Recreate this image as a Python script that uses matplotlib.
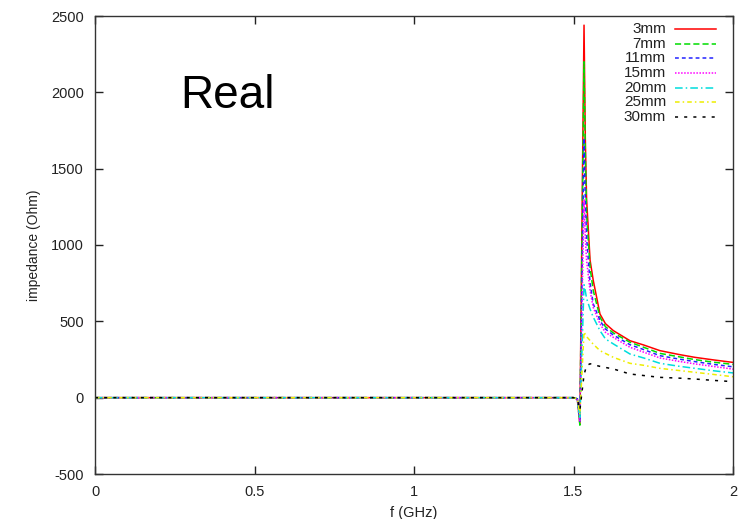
import matplotlib
matplotlib.use("Agg")
import matplotlib.pyplot as plt

plt.rcParams['font.family'] = ['Liberation Sans', 'DejaVu Sans']
plt.rcParams['axes.unicode_minus'] = False

# frequency sample points (GHz)
freq = [0.0, 0.5, 1.0, 1.5, 1.512, 1.520, 1.533, 1.537, 1.541, 1.552, 1.562,
        1.583, 1.600, 1.625, 1.677, 1.720, 1.771, 1.830, 1.881, 1.940, 2.0]

labels = ["3mm", "7mm", "11mm", "15mm", "20mm", "25mm", "30mm"]

z_3mm  = [0, 0, 0, 0, -8, -175, 2440, 1700, 1300, 900, 767, 548, 485, 439, 373, 345, 308, 283, 264, 247, 231]
z_7mm  = [0, 0, 0, 0, -8, -180, 2200, 1600, 1200, 850, 701, 527, 465, 424, 363, 330, 290, 268, 249, 232, 218]
z_11mm = [0, 0, 0, 0, -8, -160, 1700, 1300, 1050, 750, 614, 505, 450, 410, 347, 315, 275, 253, 236, 218, 202]
z_15mm = [0, 0, 0, 0, -8, -150, 1300, 1050, 900, 700, 590, 483, 428, 395, 330, 298, 260, 238, 221, 204, 187]
z_20mm = [0, 0, 0, 0, -8, -140, 740, 700, 650, 580, 527, 439, 385, 352, 286, 260, 225, 206, 192, 176, 162]
z_25mm = [0, 0, 0, 0, -8, -110, 430, 415, 400, 374, 350, 308, 290, 264, 225, 212, 192, 178, 166, 152, 137]
z_30mm = [0, 0, 0, 0, -8, -80, 150, 180, 210, 222, 216, 205, 198, 188, 155, 145, 133, 128, 122, 113, 105]

series = [z_3mm, z_7mm, z_11mm, z_15mm, z_20mm, z_25mm, z_30mm]

colors = ['#ff0000', '#00dd00', '#2222ff', '#ff00ff', '#00dddd', '#eeee00', '#000000']
styles = ['-', (0, (4, 2)), (0, (2.5, 2)), (0, (1, 1)), (0, (5, 2, 1, 2)),
          (0, (3, 2, 1, 2)), (0, (2, 4))]

fig = plt.figure(figsize=(7.46, 5.19), dpi=100)
ax = fig.add_axes([95/746, 1-474/519, (733-95)/746, (474-16)/519])

for z, c, ls in zip(series, colors, styles):
    ax.plot(freq, z, color=c, linestyle=ls, linewidth=1.1)

ax.set_xlim(0, 2)
ax.set_ylim(-500, 2500)
ax.set_xticks([0, 0.5, 1, 1.5, 2])
ax.set_xticklabels(['0', '0.5', '1', '1.5', '2'])
ax.set_yticks([-500, 0, 500, 1000, 1500, 2000, 2500])
ax.tick_params(direction='in', length=6, width=1, top=True, right=True,
               labelsize=10.5, colors='#222222')
ax.tick_params(axis='y', pad=8)
ax.tick_params(axis='x', pad=8)
for s in ax.spines.values():
    s.set_color('#333333')
    s.set_linewidth(1.0)

ax.set_xlabel('f (GHz)', fontsize=10.5, color='#222222', labelpad=5)
ax.set_ylabel('impedance (Ohm)', fontsize=10, color='#222222', labelpad=7)

ax.text((180-95)/638, (474-108)/458, 'Real', transform=ax.transAxes,
        fontsize=33, ha='left', va='baseline', color='black')

# legend (gnuplot style: label right-aligned, sample to the right)
y0 = (474-29.3)/458
dy = 14.55/458
for i, (lab, c, ls) in enumerate(zip(labels, colors, styles)):
    y = y0 - i*dy
    ax.text(0.895, y, lab, transform=ax.transAxes, ha='right', va='center',
            fontsize=11, color='#222222')
    ax.plot([0.909, 0.973], [y, y], transform=ax.transAxes, color=c,
            linestyle=ls, linewidth=1.1, clip_on=False)

fig.savefig('out.png', dpi=100)
